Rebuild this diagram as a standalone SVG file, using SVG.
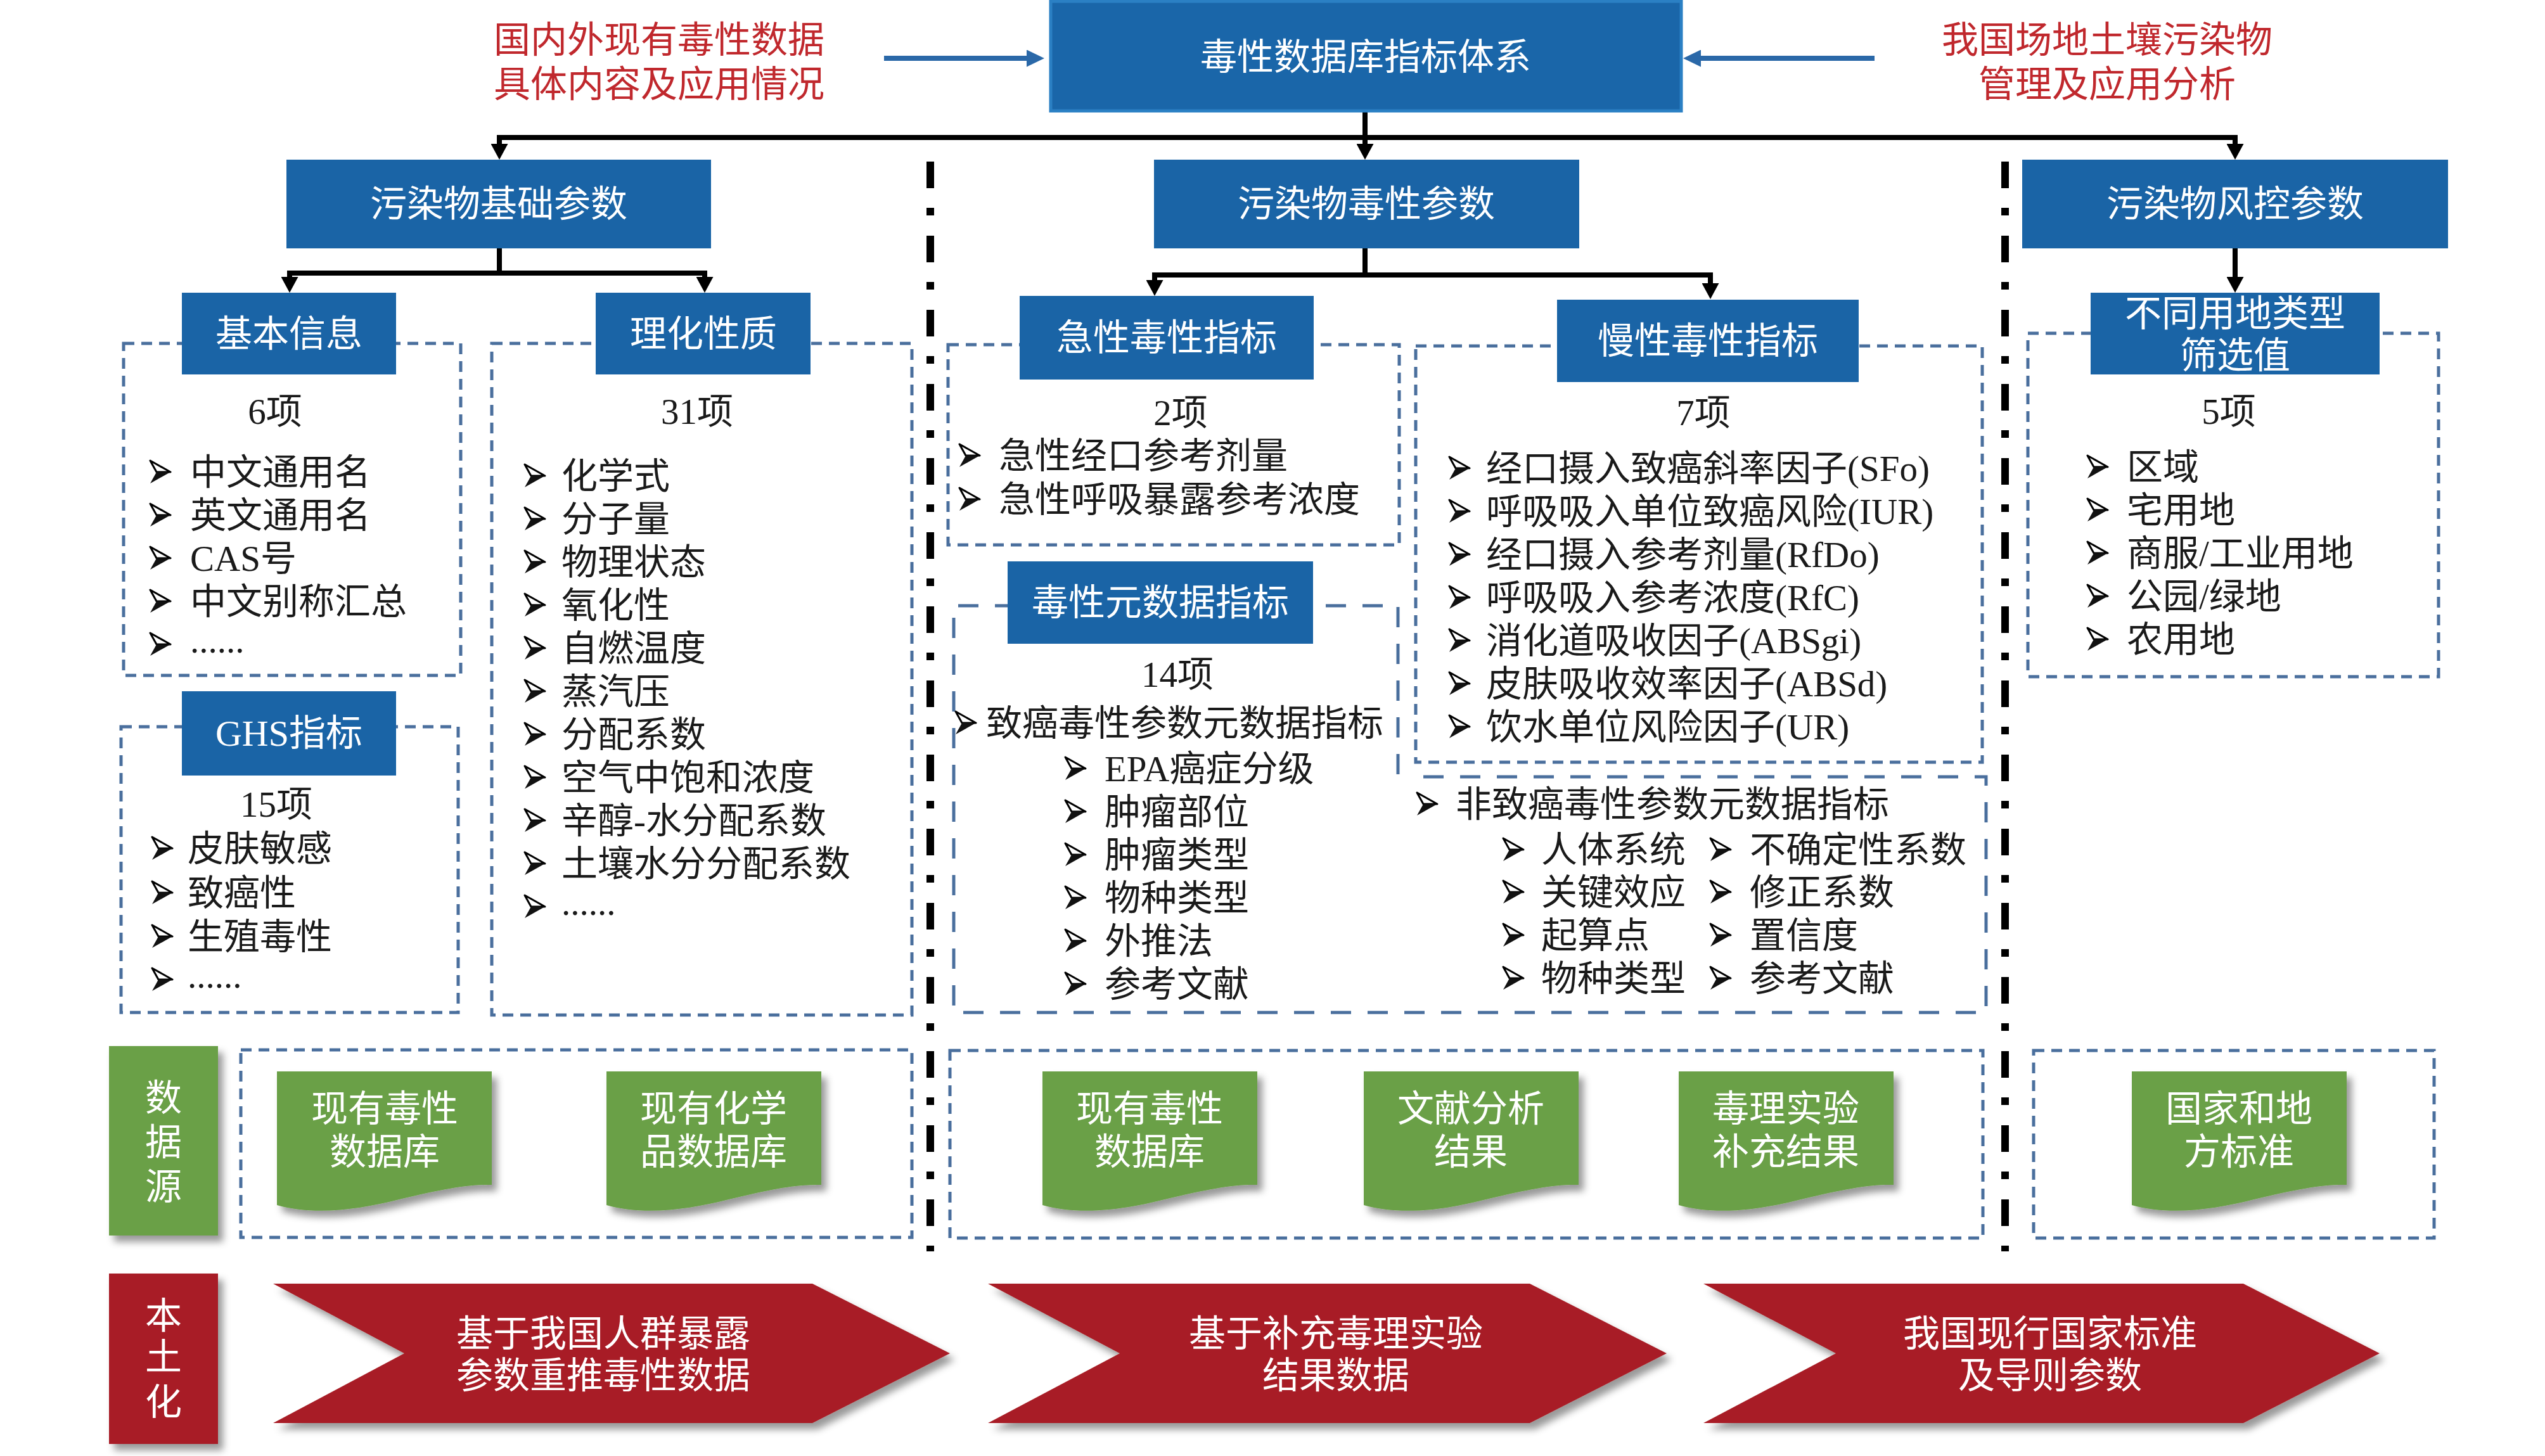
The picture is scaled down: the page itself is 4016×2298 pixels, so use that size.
<svg xmlns="http://www.w3.org/2000/svg" xmlns:xlink="http://www.w3.org/1999/xlink" width="4016" height="2298" viewBox="0 0 4016 2298">
<style>
.t{font-family:'Liberation Serif','Noto Sans CJK SC',serif;font-size:57px;fill:#1a1a1a;dominant-baseline:central}
.m{text-anchor:middle}
.w{fill:#ffffff;font-size:58px}
.red{fill:#c0282d;font-size:58px}
.hb{fill:#1a64a6}
.dash{fill:none;stroke:#4a6f9d;stroke-width:5;stroke-dasharray:17 11}
.dashl{fill:none;stroke:#4a6f9d;stroke-width:5;stroke-dasharray:32 26}
.conn{fill:none;stroke:#000;stroke-width:8}
.dd{fill:none;stroke:#000;stroke-width:12;stroke-dasharray:42 31 12 32}
.bar{fill:none;stroke:#2a68a8;stroke-width:8}
.gd{fill:#6aa047}
.rd{fill:#a81f25}
</style>
<defs>
<filter id="sh" x="-15%" y="-15%" width="140%" height="150%">
<feDropShadow dx="8" dy="10" stdDeviation="6" flood-color="#000" flood-opacity="0.4"/>
</filter>
<marker id="ah" viewBox="0 0 25 27" refX="0" refY="13.5" markerWidth="25" markerHeight="27" markerUnits="userSpaceOnUse" orient="auto">
<path d="M0,0 L25,13.5 L0,27 Z" fill="#000"/>
</marker>
<marker id="ab" viewBox="0 0 28 27" refX="0" refY="13.5" markerWidth="28" markerHeight="27" markerUnits="userSpaceOnUse" orient="auto">
<path d="M0,0 L28,13.5 L0,27 Z" fill="#2a68a8"/>
</marker>
<g id="bl">
<path d="M-16,-18 L16,0 L-6,0 Z" fill="#fff" stroke="#000" stroke-width="3" stroke-linejoin="round"/>
<path d="M-16,18 L16,0 L-6,0 Z" fill="#111"/>
</g>
<path id="doc" d="M0,0 H339 V179 C300,178 260,186 193,202 C130,218 60,228 0,211 Z"/>
</defs>
<rect width="4016" height="2298" fill="#fff"/>

<!-- dashed frames and separators -->
<g id="frames">
<rect class="dash" x="195" y="542" width="532" height="524"/>
<rect class="dash" x="776" y="542" width="663" height="1060"/>
<rect class="dash" x="191" y="1147" width="532" height="451"/>
<rect class="dash" x="1496" y="544" width="712" height="316"/>
<rect class="dash" x="2234" y="546" width="894" height="657"/>
<path class="dashl" d="M2206,1222 V956 H1505 V1598 H3134 V1226 H2227"/>
<rect class="dash" x="3200" y="526" width="648" height="542"/>
<rect class="dash" x="380" y="1657" width="1059" height="296"/>
<rect class="dash" x="1499" y="1658" width="1630" height="296"/>
<rect class="dash" x="3209" y="1658" width="632" height="296"/>
<path class="dd" d="M1468,255 V1975"/>
<path class="dd" d="M3164,255 V1975"/>
</g>

<!-- connectors -->
<g id="connectors">
<path class="bar" d="M1395,92 H1620" marker-end="url(#ab)"/>
<path class="bar" d="M2958,92 H2684" marker-end="url(#ab)"/>
<path class="conn" d="M2154,175 V227" marker-end="url(#ah)"/>
<path class="conn" d="M784,217 H3531"/>
<path class="conn" d="M788,213 V227" marker-end="url(#ah)"/>
<path class="conn" d="M3527,213 V227" marker-end="url(#ah)"/>
<path class="conn" d="M788,392 V431"/>
<path class="conn" d="M453,431 H1116"/>
<path class="conn" d="M457,427 V437" marker-end="url(#ah)"/>
<path class="conn" d="M1112,427 V437" marker-end="url(#ah)"/>
<path class="conn" d="M2154,392 V434"/>
<path class="conn" d="M1818,434 H2703"/>
<path class="conn" d="M1822,430 V442" marker-end="url(#ah)"/>
<path class="conn" d="M2699,430 V447" marker-end="url(#ah)"/>
<path class="conn" d="M3527,392 V437" marker-end="url(#ah)"/>
</g>

<!-- top -->
<g id="n-top">
<rect x="1658" y="2" width="995" height="173" fill="#1a66a9" stroke="#2b80c4" stroke-width="5"/>
<text class="t m w" x="2155" y="90">毒性数据库指标体系</text>
</g>
<g id="n-src-left">
<text class="t m red" x="1040" y="63">国内外现有毒性数据</text>
<text class="t m red" x="1040" y="133">具体内容及应用情况</text>
</g>
<g id="n-src-right">
<text class="t m red" x="3325" y="63">我国场地土壤污染物</text>
<text class="t m red" x="3325" y="133">管理及应用分析</text>
</g>

<!-- level 2 -->
<g id="n-basic">
<rect class="hb" x="452" y="252" width="670" height="140"/>
<text class="t m w" x="787" y="322">污染物基础参数</text>
</g>
<g id="n-tox">
<rect class="hb" x="1821" y="252" width="671" height="140"/>
<text class="t m w" x="2156" y="322">污染物毒性参数</text>
</g>
<g id="n-risk">
<rect class="hb" x="3191" y="252" width="672" height="140"/>
<text class="t m w" x="3527" y="322">污染物风控参数</text>
</g>

<!-- 基本信息 -->
<g id="n-info">
<rect class="hb" x="287" y="462" width="338" height="129"/>
<text class="t m w" x="456" y="527">基本信息</text>
<text class="t m" x="434" y="649">6项</text>
<use href="#bl" x="253" y="745"/><text class="t" x="300" y="745">中文通用名</text>
<use href="#bl" x="253" y="813"/><text class="t" x="300" y="813">英文通用名</text>
<use href="#bl" x="253" y="881"/><text class="t" x="300" y="881">CAS号</text>
<use href="#bl" x="253" y="949"/><text class="t" x="300" y="949">中文别称汇总</text>
<use href="#bl" x="253" y="1017"/><text class="t" x="300" y="1010">......</text>
</g>

<!-- 理化性质 -->
<g id="n-phys">
<rect class="hb" x="940" y="462" width="339" height="129"/>
<text class="t m w" x="1110" y="527">理化性质</text>
<text class="t m" x="1100" y="649">31项</text>
<use href="#bl" x="844" y="751"/><text class="t" x="886" y="751">化学式</text>
<use href="#bl" x="844" y="819"/><text class="t" x="886" y="819">分子量</text>
<use href="#bl" x="844" y="887"/><text class="t" x="886" y="887">物理状态</text>
<use href="#bl" x="844" y="955"/><text class="t" x="886" y="955">氧化性</text>
<use href="#bl" x="844" y="1023"/><text class="t" x="886" y="1023">自燃温度</text>
<use href="#bl" x="844" y="1091"/><text class="t" x="886" y="1091">蒸汽压</text>
<use href="#bl" x="844" y="1159"/><text class="t" x="886" y="1159">分配系数</text>
<use href="#bl" x="844" y="1227"/><text class="t" x="886" y="1227">空气中饱和浓度</text>
<use href="#bl" x="844" y="1295"/><text class="t" x="886" y="1295">辛醇-水分配系数</text>
<use href="#bl" x="844" y="1363"/><text class="t" x="886" y="1363">土壤水分分配系数</text>
<use href="#bl" x="844" y="1431"/><text class="t" x="886" y="1424">......</text>
</g>

<!-- GHS -->
<g id="n-ghs">
<rect class="hb" x="287" y="1091" width="338" height="133"/>
<text class="t m w" x="456" y="1157">GHS指标</text>
<text class="t m" x="436" y="1269">15项</text>
<use href="#bl" x="256" y="1339"/><text class="t" x="296" y="1339">皮肤敏感</text>
<use href="#bl" x="256" y="1409"/><text class="t" x="296" y="1409">致癌性</text>
<use href="#bl" x="256" y="1478"/><text class="t" x="296" y="1478">生殖毒性</text>
<use href="#bl" x="256" y="1546"/><text class="t" x="296" y="1539">......</text>
</g>

<!-- 急性 -->
<g id="n-acute">
<rect class="hb" x="1609" y="467" width="464" height="132"/>
<text class="t m w" x="1841" y="533">急性毒性指标</text>
<text class="t m" x="1863" y="651">2项</text>
<use href="#bl" x="1530" y="719"/><text class="t" x="1576" y="719">急性经口参考剂量</text>
<use href="#bl" x="1530" y="788"/><text class="t" x="1576" y="788">急性呼吸暴露参考浓度</text>
</g>

<!-- 慢性 -->
<g id="n-chronic">
<rect class="hb" x="2457" y="473" width="476" height="130"/>
<text class="t m w" x="2695" y="538">慢性毒性指标</text>
<text class="t m" x="2688" y="651">7项</text>
<use href="#bl" x="2303" y="739"/><text class="t" x="2345" y="739">经口摄入致癌斜率因子(SFo)</text>
<use href="#bl" x="2303" y="807"/><text class="t" x="2345" y="807">呼吸吸入单位致癌风险(IUR)</text>
<use href="#bl" x="2303" y="875"/><text class="t" x="2345" y="875">经口摄入参考剂量(RfDo)</text>
<use href="#bl" x="2303" y="943"/><text class="t" x="2345" y="943">呼吸吸入参考浓度(RfC)</text>
<use href="#bl" x="2303" y="1011"/><text class="t" x="2345" y="1011">消化道吸收因子(ABSgi)</text>
<use href="#bl" x="2303" y="1079"/><text class="t" x="2345" y="1079">皮肤吸收效率因子(ABSd)</text>
<use href="#bl" x="2303" y="1147"/><text class="t" x="2345" y="1147">饮水单位风险因子(UR)</text>
</g>

<!-- 元数据 -->
<g id="n-meta">
<rect class="hb" x="1590" y="886" width="482" height="130"/>
<text class="t m w" x="1831" y="951">毒性元数据指标</text>
<text class="t m" x="1858" y="1064">14项</text>
<use href="#bl" x="1524" y="1141"/><text class="t" x="1556" y="1141">致癌毒性参数元数据指标</text>
<use href="#bl" x="1697" y="1213"/><text class="t" x="1743" y="1213">EPA癌症分级</text>
<use href="#bl" x="1697" y="1281"/><text class="t" x="1743" y="1281">肿瘤部位</text>
<use href="#bl" x="1697" y="1349"/><text class="t" x="1743" y="1349">肿瘤类型</text>
<use href="#bl" x="1697" y="1417"/><text class="t" x="1743" y="1417">物种类型</text>
<use href="#bl" x="1697" y="1485"/><text class="t" x="1743" y="1485">外推法</text>
<use href="#bl" x="1697" y="1553"/><text class="t" x="1743" y="1553">参考文献</text>
<use href="#bl" x="2252" y="1269"/><text class="t" x="2297" y="1269">非致癌毒性参数元数据指标</text>
<use href="#bl" x="2388" y="1341"/><text class="t" x="2432" y="1341">人体系统</text>
<use href="#bl" x="2388" y="1408"/><text class="t" x="2432" y="1408">关键效应</text>
<use href="#bl" x="2388" y="1476"/><text class="t" x="2432" y="1476">起算点</text>
<use href="#bl" x="2388" y="1544"/><text class="t" x="2432" y="1544">物种类型</text>
<use href="#bl" x="2715" y="1341"/><text class="t" x="2761" y="1341">不确定性系数</text>
<use href="#bl" x="2715" y="1408"/><text class="t" x="2761" y="1408">修正系数</text>
<use href="#bl" x="2715" y="1476"/><text class="t" x="2761" y="1476">置信度</text>
<use href="#bl" x="2715" y="1544"/><text class="t" x="2761" y="1544">参考文献</text>
</g>

<!-- 用地 -->
<g id="n-land">
<rect class="hb" x="3299" y="462" width="456" height="129"/>
<text class="t m w" x="3527" y="495">不同用地类型</text>
<text class="t m w" x="3527" y="561">筛选值</text>
<text class="t m" x="3517" y="649">5项</text>
<use href="#bl" x="3310" y="737"/><text class="t" x="3356" y="737">区域</text>
<use href="#bl" x="3310" y="805"/><text class="t" x="3356" y="805">宅用地</text>
<use href="#bl" x="3310" y="873"/><text class="t" x="3356" y="873">商服/工业用地</text>
<use href="#bl" x="3310" y="941"/><text class="t" x="3356" y="941">公园/绿地</text>
<use href="#bl" x="3310" y="1009"/><text class="t" x="3356" y="1009">农用地</text>
</g>

<!-- data sources -->
<g id="n-ds-label">
<rect class="gd" x="172" y="1651" width="172" height="299" filter="url(#sh)"/>
<text class="t m w" x="258" y="1733">数</text>
<text class="t m w" x="258" y="1803">据</text>
<text class="t m w" x="258" y="1873">源</text>
</g>
<g id="n-ds1">
<use href="#doc" class="gd" x="437" y="1691" filter="url(#sh)"/>
<text class="t m w" x="607" y="1750">现有毒性</text>
<text class="t m w" x="607" y="1818">数据库</text>
</g>
<g id="n-ds2">
<use href="#doc" class="gd" x="957" y="1691" filter="url(#sh)"/>
<text class="t m w" x="1126" y="1750">现有化学</text>
<text class="t m w" x="1126" y="1818">品数据库</text>
</g>
<g id="n-ds3">
<use href="#doc" class="gd" x="1645" y="1691" filter="url(#sh)"/>
<text class="t m w" x="1814" y="1750">现有毒性</text>
<text class="t m w" x="1814" y="1818">数据库</text>
</g>
<g id="n-ds4">
<use href="#doc" class="gd" x="2152" y="1691" filter="url(#sh)"/>
<text class="t m w" x="2321" y="1750">文献分析</text>
<text class="t m w" x="2321" y="1818">结果</text>
</g>
<g id="n-ds5">
<use href="#doc" class="gd" x="2649" y="1691" filter="url(#sh)"/>
<text class="t m w" x="2818" y="1750">毒理实验</text>
<text class="t m w" x="2818" y="1818">补充结果</text>
</g>
<g id="n-ds6">
<use href="#doc" class="gd" x="3364" y="1691" filter="url(#sh)"/>
<text class="t m w" x="3533" y="1750">国家和地</text>
<text class="t m w" x="3533" y="1818">方标准</text>
</g>

<!-- localisation -->
<g id="n-loc-label">
<rect class="rd" x="172" y="2010" width="172" height="269" filter="url(#sh)"/>
<text class="t m w" x="258" y="2077">本</text>
<text class="t m w" x="258" y="2142">土</text>
<text class="t m w" x="258" y="2213">化</text>
</g>
<g id="n-loc1">
<polygon class="rd" points="431,2026 1282,2026 1499,2136 1282,2246 431,2246 638,2136" filter="url(#sh)"/>
<text class="t m w" x="952" y="2105">基于我国人群暴露</text>
<text class="t m w" x="952" y="2171">参数重推毒性数据</text>
</g>
<g id="n-loc2">
<polygon class="rd" points="1559,2026 2414,2026 2630,2136 2414,2246 1559,2246 1767,2136" filter="url(#sh)"/>
<text class="t m w" x="2108" y="2105">基于补充毒理实验</text>
<text class="t m w" x="2108" y="2171">结果数据</text>
</g>
<g id="n-loc3">
<polygon class="rd" points="2688,2026 3540,2026 3755,2136 3540,2246 2688,2246 2897,2136" filter="url(#sh)"/>
<text class="t m w" x="3235" y="2105">我国现行国家标准</text>
<text class="t m w" x="3235" y="2171">及导则参数</text>
</g>
</svg>
